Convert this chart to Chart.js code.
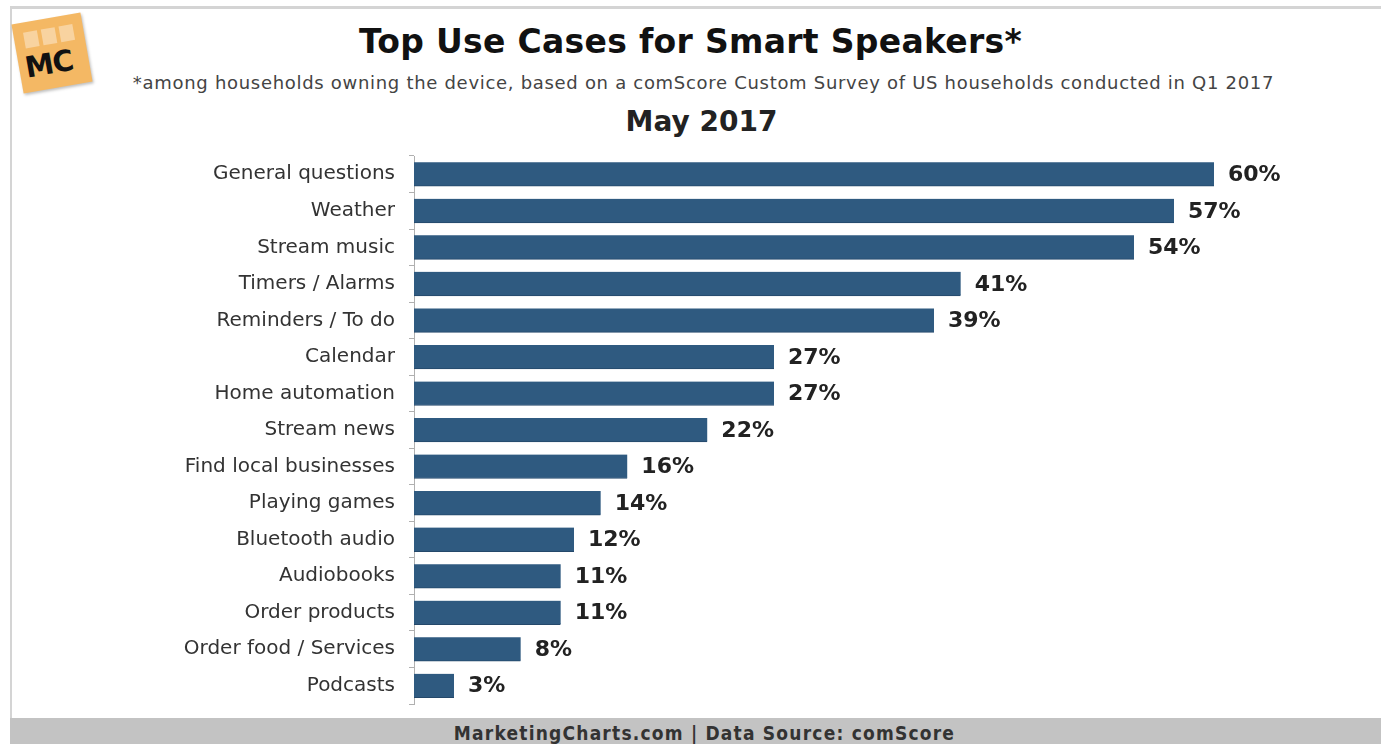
<!DOCTYPE html>
<html lang="en">
<head>
  <meta charset="UTF-8" />
  <title>Top Use Cases for Smart Speakers</title>
  <script src="https://cdn.jsdelivr.net/npm/chart.js"></script>
  <style>
    html, body { margin: 0; padding: 0; background: #fff; }
    body { width: 1381px; height: 744px; position: relative; overflow: hidden; font-family: "DejaVu Sans", Verdana, sans-serif; }
    .frame { position: absolute; left: 10px; top: 6px; width: 1380px; height: 720px; border-top: 3px solid #d4d4d4; border-left: 2px solid #d4d4d4; box-sizing: border-box; }
    .logo { position: absolute; left: 17px; top: 18px; width: 70px; height: 70px; background: #f4b864; transform: rotate(-10deg); box-shadow: 1px 2px 3px rgba(0,0,0,0.25); }
    .logo span { position: absolute; left: 6px; top: 28px; font: bold 29px "DejaVu Sans", sans-serif; color: #111; letter-spacing: -1px; }
    .logo i { position: absolute; top: 10px; width: 14px; height: 16px; background: #f8d3a0; }
    .title { position: absolute; left: 0; width: 1381px; top: 22px; text-align: center; font-weight: bold; font-size: 33px; letter-spacing: 0.3px; color: #111; }
    .sub { position: absolute; left: 0; width: 1381px; top: 72px; text-align: center; font-size: 18px; letter-spacing: 0.7px; color: #444; padding-left: 26px; box-sizing: border-box; }
    .period { position: absolute; left: 0; width: 1381px; top: 105px; text-align: center; font-weight: bold; font-size: 28px; color: #222; padding-left: 22px; box-sizing: border-box; }
    .footer { position: absolute; left: 10px; right: 0; top: 718px; height: 26px; background: #c3c3c3; text-align: center; font: bold 19px "DejaVu Sans Condensed", "DejaVu Sans", sans-serif; letter-spacing: 1.2px; color: #333; line-height: 30px; padding-left: 18px; }
    canvas { position: absolute; left: 0; top: 0; }
  </style>
</head>
<body>
  <div class="frame"></div>
  <div class="logo"><i style="left:10px"></i><i style="left:28px"></i><i style="left:46px"></i><span>MC</span></div>
  <div class="title">Top Use Cases for Smart Speakers*</div>
  <div class="sub">*among households owning the device, based on a comScore Custom Survey of US households conducted in Q1 2017</div>
  <div class="period">May 2017</div>
  <canvas id="chart" width="1381" height="744"></canvas>
  <div class="footer">MarketingCharts.com | Data Source: comScore</div>

  <script>
    const categories = [
      "General questions", "Weather", "Stream music", "Timers / Alarms",
      "Reminders / To do", "Calendar", "Home automation", "Stream news",
      "Find local businesses", "Playing games", "Bluetooth audio",
      "Audiobooks", "Order products", "Order food / Services", "Podcasts"
    ];
    const shares = [60, 57, 54, 41, 39, 27, 27, 22, 16, 14, 12, 11, 11, 8, 3];

    // value labels to the right of each bar
    const valueLabels = {
      id: "valueLabels",
      afterDatasetsDraw(chart) {
        const ctx = chart.ctx;
        const meta = chart.getDatasetMeta(0);
        ctx.save();
        ctx.font = "bold 22px 'DejaVu Sans', sans-serif";
        ctx.fillStyle = "#222";
        ctx.textBaseline = "middle";
        meta.data.forEach((bar, i) => {
          ctx.fillText(shares[i] + "%", bar.x + 14, bar.y + 1);
        });
        ctx.restore();
      }
    };

    new Chart(document.getElementById("chart"), {
      type: "bar",
      data: {
        labels: categories,
        datasets: [{
          data: shares,
          backgroundColor: "#2f5a80",
          borderColor: "#24486a",
          borderWidth: { bottom: 1 },
          barThickness: 24,
          borderSkipped: false
        }]
      },
      options: {
        indexAxis: "y",
        responsive: false,
        animation: false,
        devicePixelRatio: 1,
        layout: { padding: { top: 156, bottom: 40, right: 167, left: 0 } },
        plugins: { legend: { display: false }, tooltip: { enabled: false } },
        scales: {
          x: { display: false, min: 0, max: 60 },
          y: {
            afterFit(scale) { scale.width = 414; },
            grid: { display: true, drawOnChartArea: false, tickLength: 5, color: "#b0b0b0", offset: true },
            border: { display: true, color: "#b0b0b0" },
            ticks: { color: "#333", padding: 14, font: { family: "'DejaVu Sans', sans-serif", size: 20 } }
          }
        }
      },
      plugins: [valueLabels]
    });
  </script>
</body>
</html>
